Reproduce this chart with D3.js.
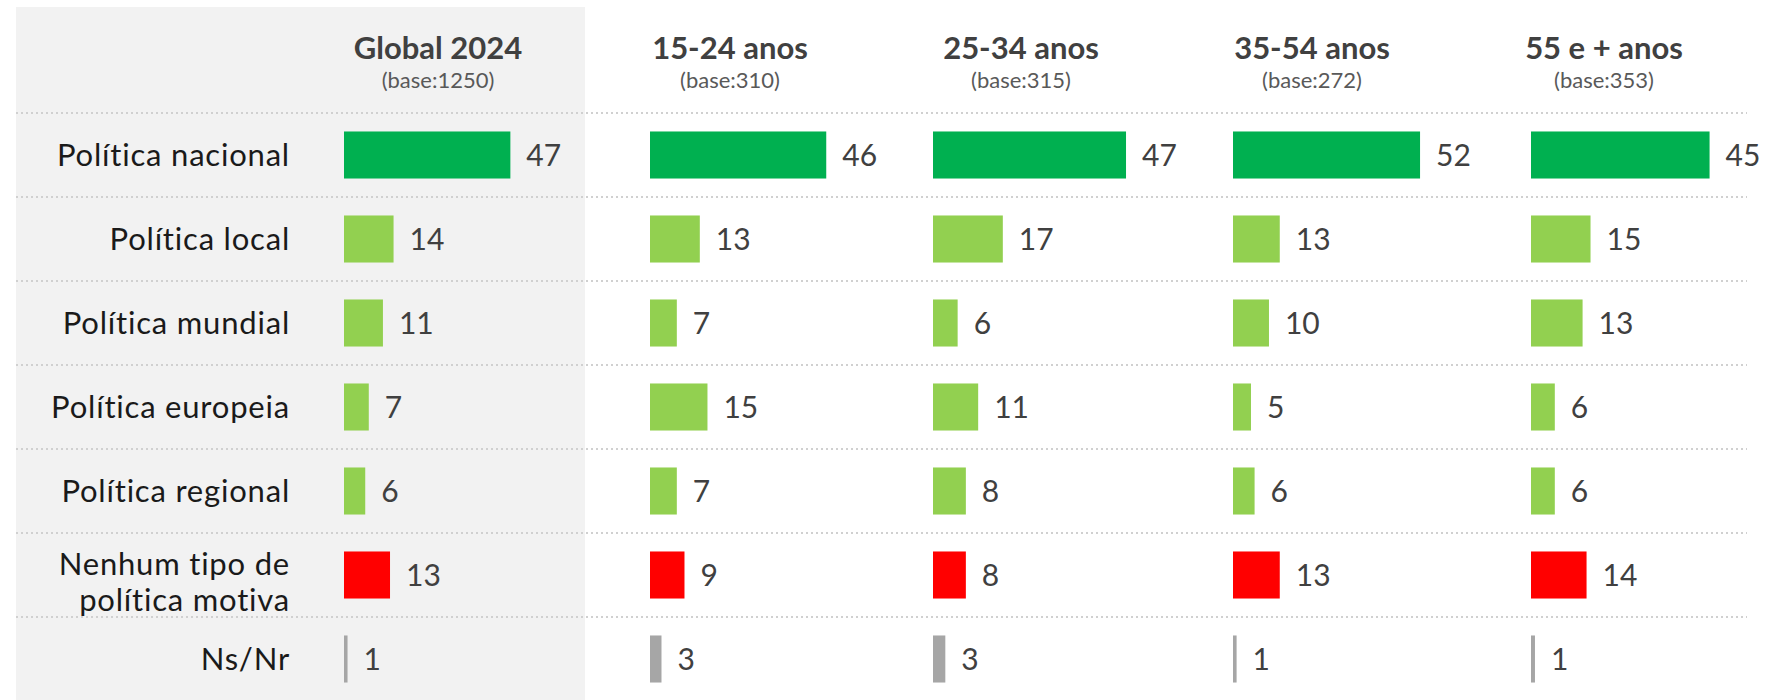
<!DOCTYPE html>
<html>
<head>
<meta charset="utf-8">
<script src="https://cdn.jsdelivr.net/npm/d3@7"></script>
<style>
  body { margin: 0; background: #fff; }
  svg { display: block; font-family: "Lato", "DejaVu Sans", sans-serif; }
</style>
</head>
<body>
<svg id="chart"></svg>
<script>
// data
const categories = [
  "Política nacional",
  "Política local",
  "Política mundial",
  "Política europeia",
  "Política regional",
  "Nenhum tipo de política motiva",
  "Ns/Nr"
];
const groups = ["Global 2024", "15-24 anos", "25-34 anos", "35-54 anos", "55 e + anos"];
const bases = [1250, 310, 315, 272, 353];
const valuesGlobal = [47, 14, 11, 7, 6, 13, 1];
const values1524 = [46, 13, 7, 15, 7, 9, 3];
const values2534 = [47, 17, 6, 11, 8, 8, 3];
const values3554 = [52, 13, 10, 5, 6, 13, 1];
const values55 = [45, 15, 13, 6, 6, 14, 1];
// each panel in the source had its own axis maximum
const axisMax = [56.5, 52.2, 48.7, 55.6, 50.4];

const series = [valuesGlobal, values1524, values2534, values3554, values55];

// layout / style
const width = 1781;
const height = 700;
const colX = [344, 650, 933, 1233, 1531];
const headX = [438, 730, 1021, 1312, 1604];
const barArea = 200;
const labelRight = 290;
const rowColors = ["#00b050", "#92d050", "#92d050", "#92d050", "#92d050", "#ff0000", "#a6a6a6"];

const svg = d3.select("#chart")
  .attr("width", width)
  .attr("height", height);

// grey panel behind the global column
svg.append("rect")
  .attr("x", 16).attr("y", 7)
  .attr("width", 569).attr("height", height - 7)
  .attr("fill", "#f2f2f2");

const y = d3.scaleBand()
  .domain(categories)
  .range([113, 701])
  .paddingInner(0.44)
  .paddingOuter(0.22);

const step = y.step();

// dotted row separators
svg.append("g")
  .selectAll("line")
  .data(categories)
  .join("line")
  .attr("x1", 16)
  .attr("x2", 1747)
  .attr("y1", (d) => y(d) - step * 0.22)
  .attr("y2", (d) => y(d) - step * 0.22)
  .attr("stroke", "#d0d0d0")
  .attr("stroke-width", 2)
  .attr("stroke-dasharray", "2,3");

// row labels
const labels = svg.append("g")
  .attr("font-size", 31)
  .attr("letter-spacing", 0.8)
  .attr("fill", "#1a1a1a")
  .attr("text-anchor", "end")
  .selectAll("text")
  .data(categories)
  .join("text")
  .attr("x", labelRight)
  .attr("y", (d) => y(d) + y.bandwidth() / 2)
  .attr("dy", "0.36em");

labels.each(function (d) {
  const t = d3.select(this);
  if (d.startsWith("Nenhum")) {
    t.append("tspan").attr("x", labelRight).attr("dy", "0em").text("Nenhum tipo de");
    t.append("tspan").attr("x", labelRight).attr("dy", "1.15em").text("política motiva");
  } else {
    t.text(d);
  }
});

// columns
groups.forEach((g, j) => {
  const x = d3.scaleLinear().domain([0, axisMax[j]]).range([0, barArea]);
  const col = svg.append("g").attr("transform", `translate(${colX[j]},0)`);

  svg.append("text")
    .attr("x", headX[j]).attr("y", 59)
    .attr("text-anchor", "middle")
    .attr("font-size", 31)
    .attr("font-weight", 700)
    .attr("fill", "#404040")
    .text(g);

  svg.append("text")
    .attr("x", headX[j]).attr("y", 88)
    .attr("text-anchor", "middle")
    .attr("font-size", 22)
    .attr("fill", "#595959")
    .text(`(base:${bases[j]})`);

  col.selectAll("rect")
    .data(series[j])
    .join("rect")
    .attr("x", 0)
    .attr("y", (d, i) => y(categories[i]))
    .attr("width", (d) => x(d))
    .attr("height", y.bandwidth())
    .attr("fill", (d, i) => rowColors[i]);

  col.selectAll("text")
    .data(series[j])
    .join("text")
    .attr("x", (d) => x(d) + 16)
    .attr("y", (d, i) => y(categories[i]) + y.bandwidth() / 2)
    .attr("dy", "0.36em")
    .attr("font-size", 30)
    .attr("fill", "#404040")
    .text((d) => d);
});
</script>
</body>
</html>
